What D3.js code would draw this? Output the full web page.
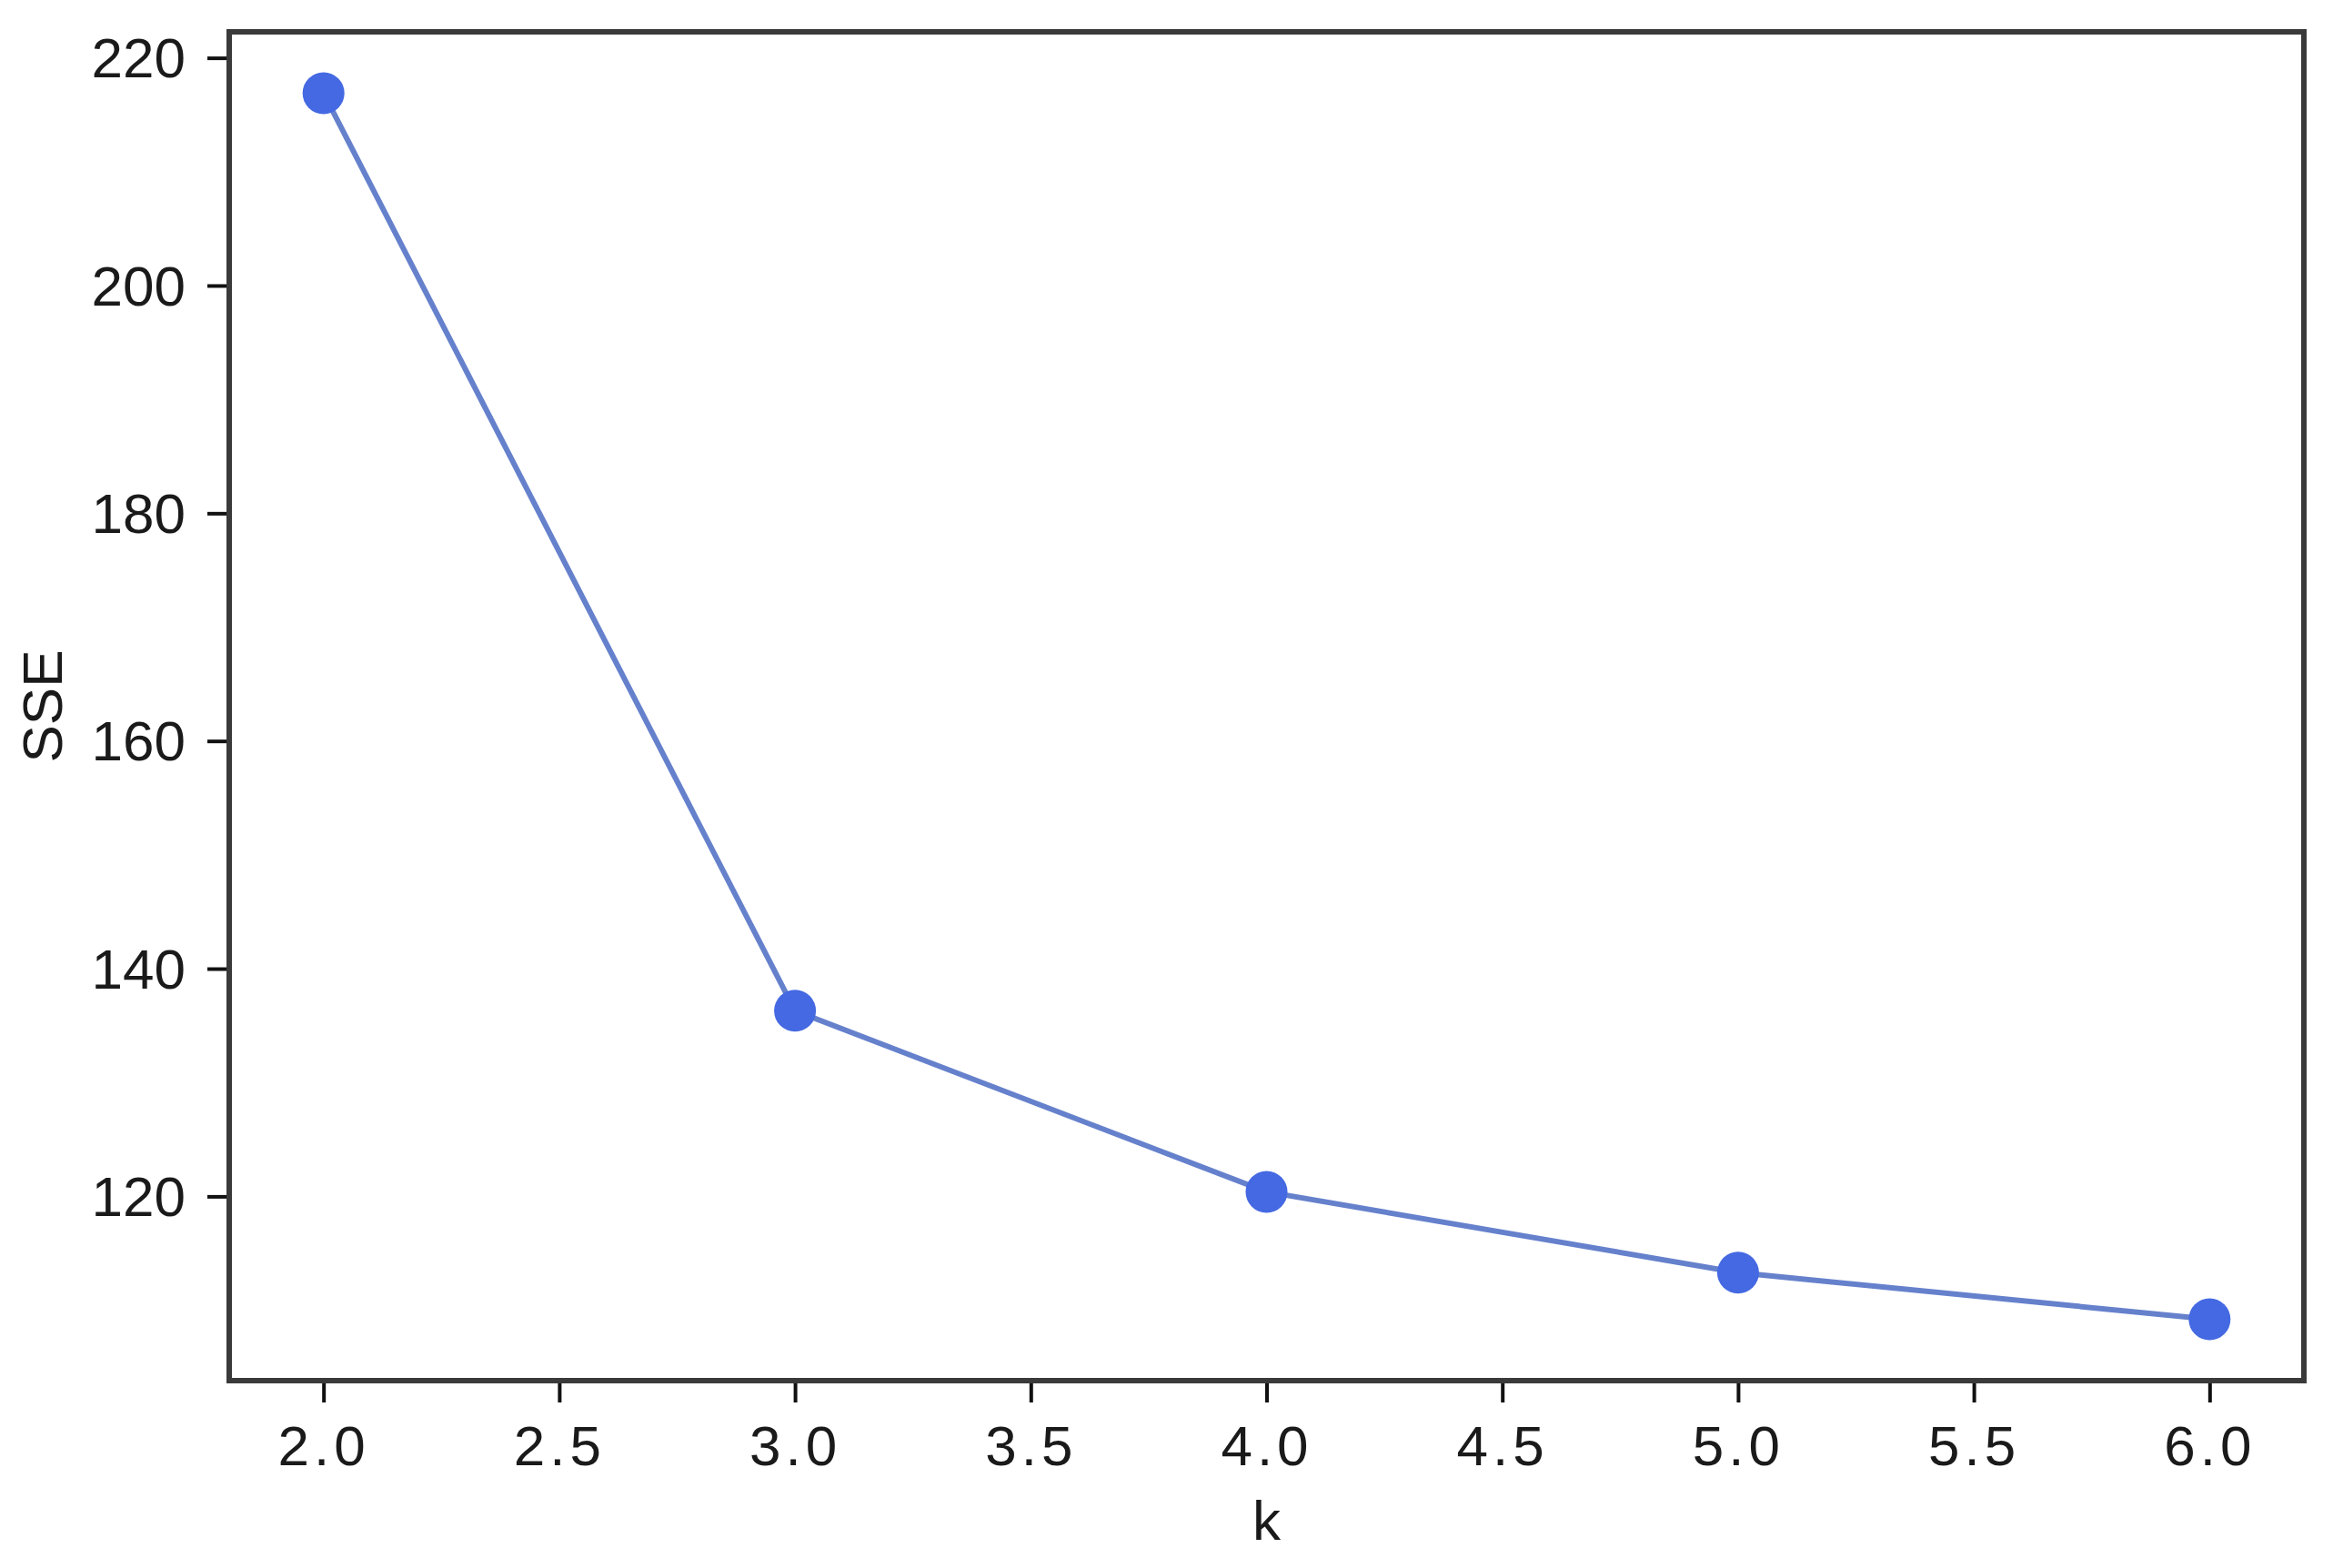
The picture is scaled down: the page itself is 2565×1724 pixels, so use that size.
<!DOCTYPE html>
<html>
<head>
<meta charset="utf-8">
<script src="https://cdn.jsdelivr.net/npm/d3@7"></script>
<style>
  body { margin: 0; background: #fff; }
  text { font-family: "Liberation Sans", Arial, sans-serif; fill: #1a1a1a; }
</style>
</head>
<body>
<svg id="chart" width="2565" height="1724"></svg>
<script>
// elbow curve data
var kValues = [2, 3, 4, 5, 6];
var sseValues = [216.9, 136.3, 120.4, 113.3, 109.2];
var xTicks = [2.0, 2.5, 3.0, 3.5, 4.0, 4.5, 5.0, 5.5, 6.0];
var yTicks = [120, 140, 160, 180, 200, 220];

var W = 2565, H = 1724;
var margin = {top: 35, right: 32, bottom: 206, left: 252};

var svg = d3.select("#chart");
svg.append("rect").attr("width", W).attr("height", H).attr("fill", "#fff");

// matplotlib style 5% padding
function pad(ext) {
  var d = (ext[1] - ext[0]) * 0.05;
  return [ext[0] - d, ext[1] + d];
}

var x = d3.scaleLinear()
  .domain(pad(d3.extent(kValues)))
  .range([margin.left, W - margin.right]);

var y = d3.scaleLinear()
  .domain(pad(d3.extent(sseValues)))
  .range([H - margin.bottom, margin.top]);

var data = kValues.map(function(k, i) { return {k: k, v: sseValues[i]}; });

// axes
var xAxis = d3.axisBottom(x)
  .tickValues(xTicks)
  .tickFormat(d3.format(".1f"))
  .tickSize(24).tickPadding(24);

var yAxis = d3.axisLeft(y)
  .tickValues(yTicks)
  .tickFormat(d3.format("d"))
  .tickSize(24).tickPadding(24);

var gx = svg.append("g")
  .attr("transform", "translate(0," + (H - margin.bottom) + ")")
  .call(xAxis);

var gy = svg.append("g")
  .attr("transform", "translate(" + margin.left + ",0)")
  .call(yAxis);

[gx, gy].forEach(function(g) {
  g.select(".domain").remove();
  g.selectAll(".tick line").attr("stroke", "#111").attr("stroke-width", 4);
  g.selectAll(".tick text")
    .attr("font-size", 62)
    .attr("fill", "#1a1a1a")
    .style("font-family", "'Liberation Sans', Arial, sans-serif");
});
gx.selectAll(".tick text").attr("letter-spacing", 5).attr("dy", "0.72em");
gy.selectAll(".tick text").attr("dy", "0.34em");

// frame
svg.append("rect")
  .attr("x", margin.left)
  .attr("y", margin.top)
  .attr("width", W - margin.right - margin.left)
  .attr("height", H - margin.bottom - margin.top)
  .attr("fill", "none")
  .attr("stroke", "#3a3a3a")
  .attr("stroke-width", 6);

// line
var line = d3.line()
  .x(function(d) { return x(d.k); })
  .y(function(d) { return y(d.v); });

svg.append("path")
  .datum(data)
  .attr("d", line)
  .attr("fill", "none")
  .attr("stroke", "#6681cc")
  .attr("stroke-width", 6);

svg.selectAll(".pt")
  .data(data)
  .enter().append("circle")
  .attr("class", "pt")
  .attr("cx", function(d) { return x(d.k); })
  .attr("cy", function(d) { return y(d.v); })
  .attr("r", 23)
  .attr("fill", "#4469e2");

// axis labels
svg.append("text")
  .attr("x", (margin.left + W - margin.right) / 2)
  .attr("y", 1693)
  .attr("text-anchor", "middle")
  .attr("font-size", 62)
  .text("k");

svg.append("text")
  .attr("transform", "translate(68," + ((margin.top + H - margin.bottom) / 2) + ") rotate(-90)")
  .attr("text-anchor", "middle")
  .attr("font-size", 62)
  .text("SSE");
</script>
</body>
</html>
